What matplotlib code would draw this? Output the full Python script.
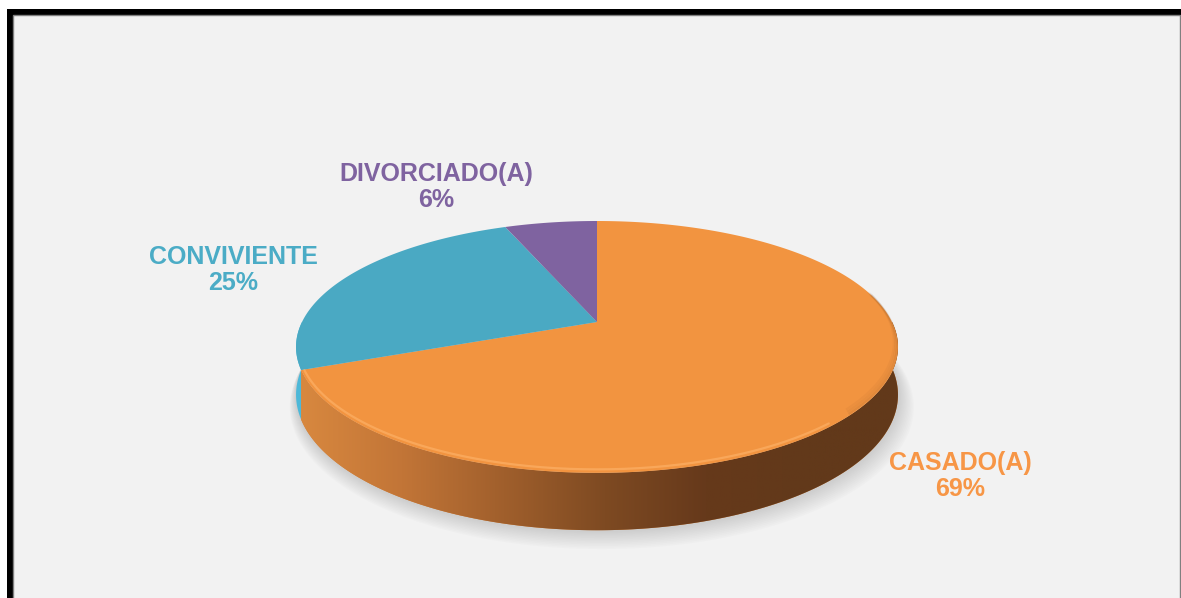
import numpy as np
import matplotlib.pyplot as plt
from matplotlib.patches import Polygon, Rectangle
from matplotlib.colors import LinearSegmentedColormap

# -----------------------------
# Data
# -----------------------------
labels = ["CASADO(A)", "CONVIVIENTE", "DIVORCIADO(A)"]
shares = [69, 25, 6]
top_colors = ["#F29440", "#4AA9C3", "#7F63A0"]
side_colors = ["#D4843E", "#4DB8D8", "#6A5088"]
text_colors = ["#F79646", "#4BACC6", "#7F63A0"]
label_pos = [(960, 476), (233, 270), (436, 187)]

W, H = 1181, 598
fig = plt.figure(figsize=(W / 100, H / 100), dpi=100)
fig.patch.set_facecolor("white")
ax = fig.add_axes([0, 0, 1, 1])
ax.set_xlim(0, W)
ax.set_ylim(H, 0)
ax.axis("off")

# frame
ax.add_patch(Rectangle((7, 9), W - 7, H, facecolor="black", zorder=0))
ax.add_patch(Rectangle((13, 15), W - 14, H, facecolor="#F2F2F2",
                       edgecolor="#808080", lw=1, zorder=0))

# -----------------------------
# 3D pie projection
# -----------------------------
cx, cy = 597, 322
A, B, k = 295, 121, 0.198
depth = 46


def project(phi, drop=0.0, grow=0.0):
    u = np.sin(phi)
    v = -np.cos(phi)
    w = 1 - k * v
    return cx + (A + grow) * u / w, cy + ((B + grow * 0.4) * v + drop) / w


fracs = np.array(shares) / sum(shares)
ends = np.cumsum(fracs) * 2 * np.pi
starts = ends - fracs * 2 * np.pi

# soft shadow under the pie
full = np.linspace(0, 2 * np.pi, 400)
for i in range(12, 0, -1):
    sx, sy = project(full, drop=depth + i * 0.9, grow=i * 0.9)
    ax.add_patch(Polygon(np.column_stack([sx + i * 0.4, sy]), closed=True,
                         facecolor="#9a9a9a", edgecolor="none",
                         alpha=0.035, zorder=1))

# side walls (front half only)
side_cmap = LinearSegmentedColormap.from_list(
    "side", ["#D8883F", "#C27537", "#A05F2C", "#7E4A22", "#66391B",
             "#62391A", "#62391A"])
grad = np.linspace(0, 1, 256).reshape(1, -1)

for s, e, col, name in zip(starts, ends, side_colors, labels):
    a0 = max(s, np.pi / 2)
    a1 = min(e, 3 * np.pi / 2)
    if a1 <= a0:
        continue
    phi = np.linspace(a0, a1, 200)
    tx, ty = project(phi)
    bx, by = project(phi[::-1], drop=depth)
    pts = np.column_stack([np.r_[tx, bx], np.r_[ty, by]])
    poly = Polygon(pts, closed=True, facecolor=col, edgecolor="none", zorder=2)
    ax.add_patch(poly)
    if name == "CASADO(A)":
        img = ax.imshow(grad, cmap=side_cmap, aspect="auto",
                        extent=(300, 910, 560, 300), zorder=3)
        img.set_clip_path(poly)

# top faces
for s, e, col in zip(starts, ends, top_colors):
    phi = np.linspace(s, e, 300)
    x, y = project(phi)
    pts = np.column_stack([np.r_[cx, x], np.r_[cy, y]])
    ax.add_patch(Polygon(pts, closed=True, facecolor=col, edgecolor="none",
                         zorder=4))

# bevel along the front rim
phi = np.linspace(2.4, ends[0] - 0.02, 200)
x, y = project(phi, drop=-2, grow=-2)
ax.plot(x, y, color="#FFB870", lw=1.6, alpha=0.55, zorder=5,
        solid_capstyle="round")
phi = np.linspace(1.35, 2.3, 200)
for i, a in enumerate([0.12, 0.08, 0.05]):
    x, y = project(phi, drop=-1 - i * 1.5, grow=-1 - i * 1.5)
    ax.plot(x, y, color="#6A3E1C", lw=1.6, alpha=a, zorder=5)

# -----------------------------
# Labels
# -----------------------------
for name, share, col, (lx, ly) in zip(labels, shares, text_colors, label_pos):
    ax.text(lx, ly, f"{name}\n{share}%", ha="center", va="center",
            color=col, fontsize=18, fontweight="bold",
            family="Liberation Sans", linespacing=1.1, zorder=6)

fig.savefig("out.png", dpi=100, facecolor=fig.get_facecolor())
plt.close(fig)
